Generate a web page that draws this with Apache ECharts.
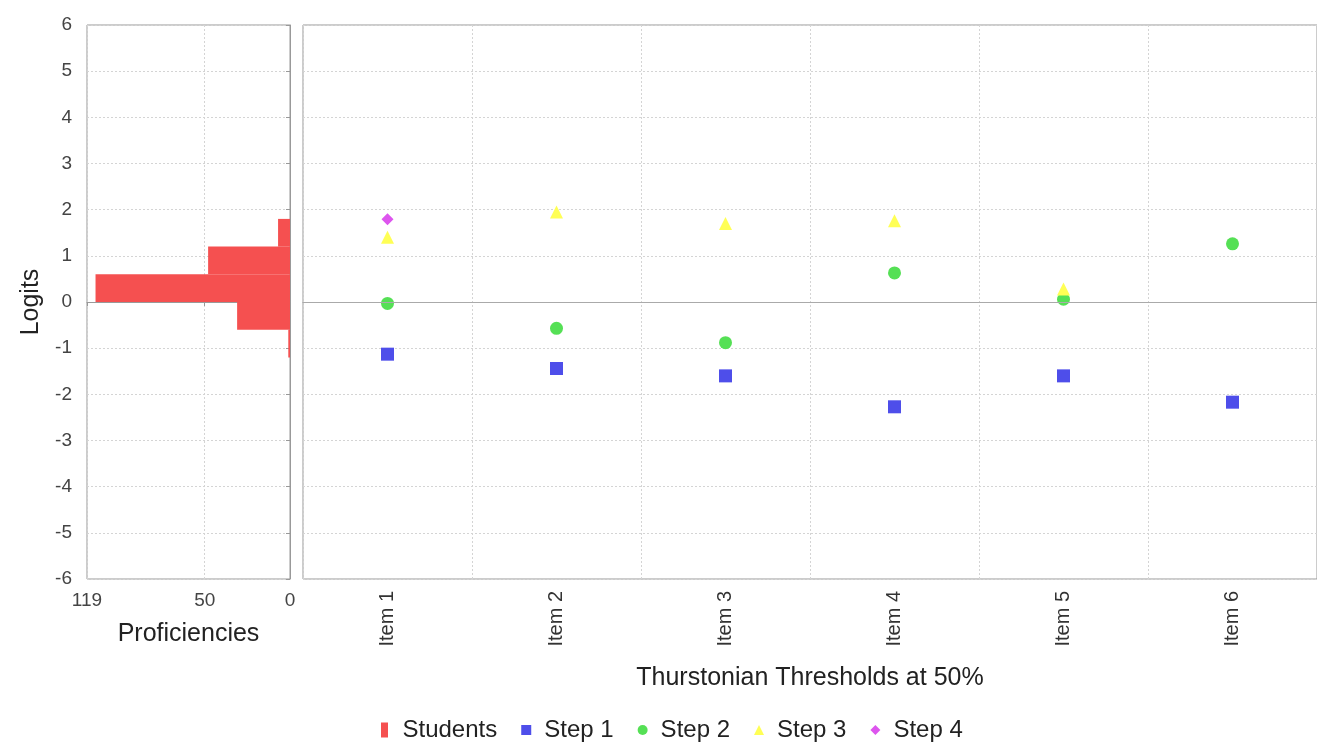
<!DOCTYPE html>
<html>
<head>
<meta charset="utf-8">
<script src="https://cdn.jsdelivr.net/npm/echarts@6/dist/echarts.min.js"></script>
<style>
html,body{margin:0;padding:0;background:#fff;}
#chart{width:1317px;height:742px;}
</style>
</head>
<body>
<div id="chart"></div>
<script>
// ---- data ----
var items = ['Item 1', 'Item 2', 'Item 3', 'Item 4', 'Item 5', 'Item 6'];
var step1 = [-1.13, -1.44, -1.60, -2.27, -1.60, -2.17];
var step2 = [-0.03, -0.57, -0.88, 0.63, 0.06, 1.26];
var step3 = [1.40, 1.95, 1.70, 1.76, 0.28, null];
var step4 = [1.79, null, null, null, null, null];
// histogram of student proficiencies (logit bins)
var binLow = [-1.2, -0.6, 0.0, 0.6, 1.2];
var binHigh = [-0.6, 0.0, 0.6, 1.2, 1.8];
var binCount = [1, 31, 114, 48, 7];
var profTicks = [0, 50, 119];
var logitMin = -6, logitMax = 6;

var FONT = '"Liberation Sans", Arial, sans-serif';
var histData = binCount.map(function (c, i) { return [c, binLow[i], binHigh[i]]; });

var gridLine = { show: true, lineStyle: { color: '#d4d4d4', type: [2, 2], width: 1 } };

var chart = echarts.init(document.getElementById('chart'), null, { renderer: 'canvas' });
chart.setOption({
  backgroundColor: '#ffffff',
  animation: false,
  textStyle: { fontFamily: FONT },
  grid: [
    { left: 87, top: 25, width: 203, height: 554, show: true, borderColor: '#999', borderWidth: 1, backgroundColor: '#fff' },
    { left: 303, top: 25, width: 1015, height: 554, show: true, borderColor: '#999', borderWidth: 1, backgroundColor: '#fff' }
  ],
  xAxis: [
    {
      gridIndex: 0, type: 'value', inverse: true, min: 0, max: 119,
      name: 'Proficiencies', nameLocation: 'middle', nameGap: 43,
      nameTextStyle: { fontSize: 25, color: '#222', fontFamily: FONT },
      axisLine: { show: true, lineStyle: { color: '#999' } },
      axisTick: { show: true, length: 4, lineStyle: { color: '#999' }, customValues: profTicks },
      axisLabel: { fontSize: 19, color: '#444', margin: 12, customValues: profTicks, fontFamily: FONT },
      splitLine: gridLine
    },
    {
      gridIndex: 1, type: 'category', data: items, boundaryGap: true,
      name: 'Thurstonian Thresholds at 50%', nameLocation: 'middle', nameGap: 87,
      nameTextStyle: { fontSize: 25, color: '#222', fontFamily: FONT },
      axisLine: { show: true, lineStyle: { color: '#999' } },
      axisTick: { show: false },
      axisLabel: { rotate: 90, fontSize: 20, color: '#333', margin: 12, interval: 0, fontFamily: FONT },
      splitLine: { show: true, interval: 0, lineStyle: { color: '#d4d4d4', type: [2, 2], width: 1 } }
    }
  ],
  yAxis: [
    {
      gridIndex: 0, type: 'value', min: logitMin, max: logitMax, interval: 1,
      name: 'Logits', nameLocation: 'middle', nameGap: 43,
      nameTextStyle: { fontSize: 25, color: '#222', fontFamily: FONT },
      axisLine: { show: true, lineStyle: { color: '#999' } },
      axisTick: { show: true, length: 4, lineStyle: { color: '#999' } },
      axisLabel: { fontSize: 19, color: '#444', margin: 15, fontFamily: FONT },
      splitLine: gridLine
    },
    {
      gridIndex: 1, type: 'value', min: logitMin, max: logitMax, interval: 1,
      axisLine: { show: false }, axisTick: { show: false }, axisLabel: { show: false },
      splitLine: gridLine
    }
  ],
  legend: {
    left: 376, top: 713, itemGap: 24, itemWidth: 10, itemHeight: 15,
    textStyle: { fontSize: 24, color: '#222', fontFamily: FONT, padding: [0, 0, 0, 8] },
    data: [
      { name: 'Students', icon: 'path://M0,0L7,0L7,15L0,15Z' },
      { name: 'Step 1', icon: 'path://M0,0L10,0L10,10L0,10Z' },
      { name: 'Step 2', icon: 'circle' },
      { name: 'Step 3', icon: 'path://M5,0L10,10L0,10Z' },
      { name: 'Step 4', icon: 'path://M5,0L10,5L5,10L0,5Z' }
    ]
  },
  series: [
    {
      name: 'Students', type: 'custom', xAxisIndex: 0, yAxisIndex: 0,
      itemStyle: { color: '#F55050' },
      encode: { x: 0, y: [1, 2] },
      data: histData,
      renderItem: function (params, api) {
        var c = api.value(0), lo = api.value(1), hi = api.value(2);
        var p1 = api.coord([c, hi]);
        var p0 = api.coord([0, lo]);
        var x = Math.min(p0[0], p1[0]);
        return {
          type: 'rect',
          shape: { x: x, y: p1[1], width: Math.abs(p0[0] - p1[0]), height: p0[1] - p1[1] },
          style: api.style()
        };
      }
    },
    {
      name: 'Step 1', type: 'scatter', xAxisIndex: 1, yAxisIndex: 1,
      symbol: 'rect', symbolSize: 13, itemStyle: { color: '#4E4EEA', opacity: 1 },
      data: step1,
      markLine: {
        silent: true, symbol: ['none', 'none'], label: { show: false },
        lineStyle: { color: '#aaaaaa', type: 'solid', width: 1 },
        data: [{ yAxis: 0 }]
      }
    },
    {
      name: 'Step 2', type: 'scatter', xAxisIndex: 1, yAxisIndex: 1,
      symbol: 'circle', symbolSize: 13, itemStyle: { color: '#55E055', opacity: 1 },
      data: step2
    },
    {
      name: 'Step 3', type: 'scatter', xAxisIndex: 1, yAxisIndex: 1,
      symbol: 'triangle', symbolSize: 13, itemStyle: { color: '#FFFF55', opacity: 1 },
      data: step3
    },
    {
      name: 'Step 4', type: 'scatter', xAxisIndex: 1, yAxisIndex: 1,
      symbol: 'diamond', symbolSize: 12, itemStyle: { color: '#DD55EE', opacity: 1 },
      data: step4
    }
  ]
});
</script>
</body>
</html>
